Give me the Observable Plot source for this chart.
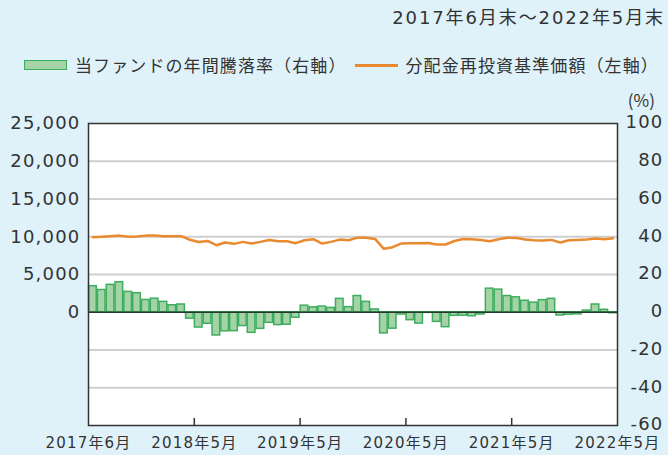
<!DOCTYPE html>
<html><head><meta charset="utf-8">
<script src="https://cdn.jsdelivr.net/npm/d3@7"></script>
<script src="https://cdn.jsdelivr.net/npm/@observablehq/plot@0.6"></script>
<style>
html,body{margin:0;padding:0;background:#dff2fa;}
#wrap{position:relative;width:668px;height:455px;background:#dff2fa;color:#333;overflow:hidden;font-family:"DejaVu Sans","Noto Sans CJK JP",sans-serif;}
#title{position:absolute;right:3px;top:5px;font-size:18px;letter-spacing:1.9px;line-height:26px;white-space:nowrap;}
#legend{position:absolute;left:24px;top:52px;display:flex;align-items:center;font-size:17px;line-height:26px;white-space:nowrap;font-family:"Noto Sans CJK JP",sans-serif;letter-spacing:1.1px;}
.sw-bar{width:41px;height:8px;background:#a3d3a7;border:1.5px solid #3ead5e;margin-right:8px;}
.sw-line{width:43px;height:3px;background:#ea8a2f;margin:0 8px 0 8px;}
#unit{position:absolute;right:13px;top:88px;font-size:17px;line-height:24px;font-family:"Noto Sans CJK JP",sans-serif;}
#chart{position:absolute;left:0;top:0;}
#chart svg text{letter-spacing:1.2px;}
</style>
</head><body>
<div id="wrap">
  <div id="title">2017年6月末～2022年5月末</div>
  <div id="legend"><span class="sw-bar"></span><span>当ファンドの年間騰落率（右軸）</span><span class="sw-line"></span><span>分配金再投資基準価額（左軸）</span></div>
  <div id="unit">(%)</div>
  <div id="chart"></div>
</div>
<script>
// Annual return (%) per month-end, 2017/6 .. 2022/5 (right axis)
const returns = [
  13.8, 11.8, 14.5, 15.9, 10.8, 10.1, 6.5, 7.2, 5.5, 3.7, 4.1, -3.4,
  -8.1, -6.1, -12.3, -10.1, -10.0, -7.3, -10.9, -8.8, -5.6, -6.8, -6.6, -2.9,
  3.5, 2.6, 3.0, 2.3, 7.1, 2.7, 8.6, 5.5, 1.5, -11.2, -8.7, -1.2,
  -4.2, -6.0, -0.3, -5.1, -7.9, -1.9, -1.8, -2.1, -1.2, 12.5, 12.0, 8.6,
  7.9, 6.1, 5.1, 6.4, 7.1, -1.7, -1.3, -1.1, 0.9, 4.1, 1.3, -0.5
];
// NAV with dividends reinvested (yen, left axis)
const prices = [
  9950, 9990, 10080, 10150, 10000, 10020, 10150, 10150, 10080, 10080, 10080, 9600,
  9300, 9450, 8880, 9230, 9060, 9320, 9100, 9320, 9580, 9400, 9400, 9150,
  9540, 9670, 9100, 9320, 9620, 9540, 9880, 9880, 9710, 8400, 8620, 9120,
  9140, 9140, 9180, 8970, 8970, 9440, 9700, 9670, 9580, 9400, 9670, 9880,
  9850, 9630, 9540, 9490, 9580, 9230, 9540, 9580, 9630, 9760, 9670, 9800
];
const xTickPos = [0, 12, 24, 36, 48, 60];
const xTickLabels = ["2017年6月", "2018年5月", "2019年5月", "2020年5月", "2021年5月", "2022年5月"];
const rightTicks = [-60, -40, -20, 0, 20, 40, 60, 80, 100];
const leftTicks = [0, 5000, 10000, 15000, 20000, 25000];
const gridTicks = [-40, -20, 20, 40, 60, 80];
const RATIO = 250; // yen per percent-point (25,000 aligns with 100)

const data = returns.map((r, i) => ({i, r, p: prices[i]}));

const plot = Plot.plot({
  width: 668, height: 455,
  marginLeft: 88, marginRight: 51, marginTop: 123, marginBottom: 30,
  style: {background: "transparent", fontSize: "18px", color: "#333", fontFamily: "'DejaVu Sans','Noto Sans CJK JP',sans-serif"},
  x: {domain: [0, 60], label: null},
  y: {domain: [-60, 100], label: null},
  marks: [
    Plot.frame({fill: "white"}),
    Plot.ruleY(gridTicks, {stroke: "#cfcfcf", strokeWidth: 2}),
    Plot.rect(data, {x1: d => d.i, x2: d => d.i + 1, y1: 0, y2: "r", insetLeft: 0.6, insetRight: 0.6, fill: "#a3d3a7", stroke: "#3ead5e", strokeWidth: 1.5}),
    Plot.ruleY([0], {stroke: "#243b2c", strokeWidth: 1.5}),
    Plot.line(data, {x: d => d.i + 0.5, y: d => d.p / RATIO, stroke: "#ea8a2f", strokeWidth: 2.5}),
    Plot.ruleX(xTickPos.slice(1, -1), {y1: -60, y2: -60 + 7 * 160 / 302, stroke: "#333", strokeWidth: 1.5}),
    Plot.frame({stroke: "#333", strokeWidth: 1.5}),
    Plot.axisY(leftTicks.map(v => v / RATIO), {anchor: "left", label: null, tickSize: 0, tickPadding: 8, tickFormat: d => d3.format(",")(Math.round(d * RATIO))}),
    Plot.axisY(rightTicks, {anchor: "right", label: null, tickSize: 0, tickPadding: 0, textAnchor: "end", dx: 46, dy: -1, tickFormat: d => String(d)}),
    Plot.axisX(xTickPos, {anchor: "bottom", label: null, tickSize: 0, tickPadding: 12, fontSize: 15, tickFormat: d => xTickLabels[xTickPos.indexOf(d)]})
  ]
});
document.getElementById("chart").appendChild(plot);
</script>
</body></html>
